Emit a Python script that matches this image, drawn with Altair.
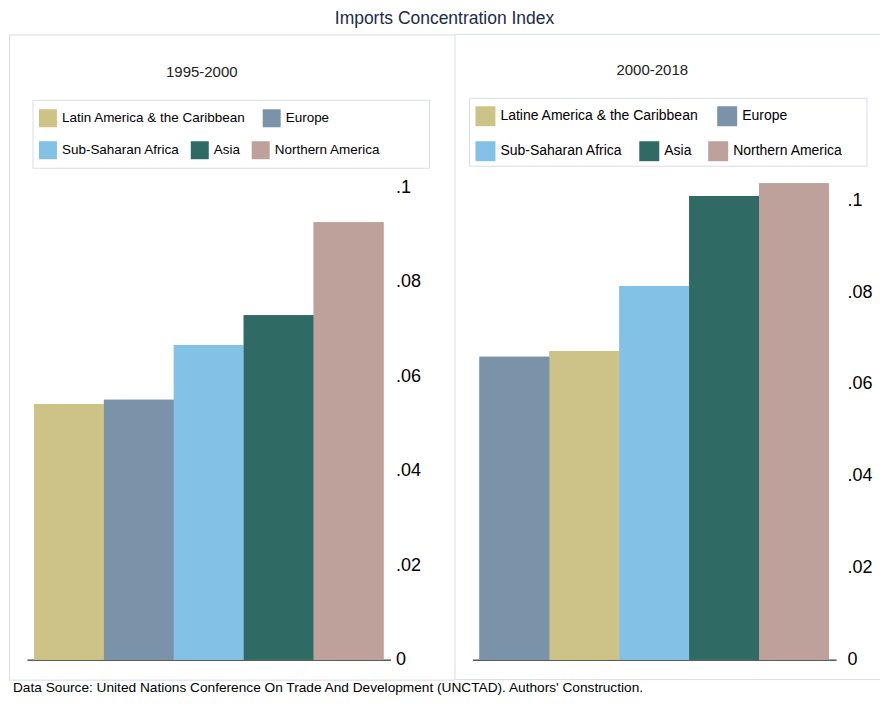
import altair as alt
import pandas as pd

# ---------------- data ----------------
chart_title = "Imports Concentration Index"
footer_text = "Data Source: United Nations Conference On Trade And Development (UNCTAD). Authors' Construction."

p1_label = "1995-2000"
p1_regions = ["Latin America & the Caribbean", "Europe", "Sub-Saharan Africa", "Asia", "Northern America"]
p1_values = [0.0541, 0.0550, 0.0666, 0.0729, 0.0926]

p2_label = "2000-2018"
p2_regions = ["Latine America & the Caribbean", "Europe", "Sub-Saharan Africa", "Asia", "Northern America"]
p2_values = [0.0672, 0.0659, 0.0813, 0.1009, 0.1037]

region_colors = ["#cdc386", "#7a93a9", "#84c1e6", "#2f6b64", "#bfa19c"]
y_ticks = [0, 0.02, 0.04, 0.06, 0.08, 0.1]

# ---------------- styling ----------------
FONT = "Liberation Sans"
H = 646
BASE = 626          # baseline position inside each panel
FRAME = "#d6dde6"
X0, X1 = 18, 382    # band range inside each panel


def legend(values, x, y, sym_px, font_size, col_pad):
    return alt.Legend(
        title=None, values=values, orient="none", legendX=x, legendY=y,
        direction="horizontal", columnPadding=col_pad,
        symbolType="square", symbolSize=sym_px * sym_px, symbolStrokeWidth=0,
        symbolOpacity=1, labelFont=FONT, labelFontSize=font_size,
        labelColor="black", labelOffset=5, labelLimit=400, padding=0,
    )


def panel(regions, values, label, width, ymax, ytop, box, rows_y, sym_px, leg_font,
          pads, sub_x, sub_y, lab_pad, first):
    df = pd.DataFrame({"region": regions, "value": values})
    cscale = alt.Scale(domain=regions, range=region_colors)

    x_enc = alt.X(
        "region:N",
        sort="y",
        scale=alt.Scale(range=[X0, X1], paddingInner=0, paddingOuter=0.1),
        axis=alt.Axis(labels=False, ticks=False, title=None, grid=False,
                      domainColor="black", domainWidth=1, offset=BASE - H),
    )
    y_enc = alt.Y(
        "value:Q",
        scale=alt.Scale(domain=[0, ymax], range=[BASE, ytop], nice=False, zero=True),
        axis=alt.Axis(
            orient="right", values=y_ticks, title=None, grid=False, ticks=False,
            domain=False, offset=X1 - width, labelPadding=lab_pad, labelFontSize=18,
            labelFont=FONT, labelColor="black",
            labelExpr="datum.value == 0 ? '0' : replace(format(datum.value, '.2~f'), '0.', '.')",
        ),
    )

    # legend frame (decoration)
    frame = alt.Chart(pd.DataFrame({"k": [0]})).mark_rect(
        fill="white", stroke=FRAME, strokeWidth=1
    ).encode(
        x=alt.value(box[0]), x2=alt.value(box[1]),
        y=alt.value(box[2]), y2=alt.value(box[3]),
    )

    # first legend row: Latin America, Europe
    bars_a = alt.Chart(df).mark_bar(strokeWidth=0).encode(
        x=x_enc, y=y_enc,
        color=alt.Color("region:N", scale=cscale,
                        legend=legend(regions[:2], box[0] + 6, rows_y[0] - sym_px / 2,
                                      sym_px, leg_font, pads[0])),
    )
    # second legend row: Sub-Saharan Africa, Asia, Northern America
    bars_b = alt.Chart(df).mark_bar(strokeWidth=0).encode(
        x=x_enc, y=y_enc,
        fill=alt.Fill("region:N", scale=cscale,
                      legend=legend(regions[2:], box[0] + 6, rows_y[1] - sym_px / 2,
                                    sym_px, leg_font, pads[1])),
    )

    sub = alt.Chart(pd.DataFrame({"t": [label]})).mark_text(
        font=FONT, fontSize=15, color="#222222", align="center", baseline="middle"
    ).encode(text="t:N", x=alt.value(sub_x), y=alt.value(sub_y))

    layers = [frame, bars_a, bars_b, sub]
    if first:
        foot = alt.Chart(pd.DataFrame({"t": [footer_text]})).mark_text(
            font=FONT, fontSize=13.7, color="black", align="left", baseline="middle"
        ).encode(text="t:N", x=alt.value(4), y=alt.value(H + 8))
        layers.append(foot)
        view = alt.ViewBackground(stroke=FRAME, strokeWidth=1)
    else:
        # panel runs off the page on the right: only top and bottom edges
        edges = alt.Chart(pd.DataFrame({"k": [0]})).mark_rule(color=FRAME, strokeWidth=1)
        layers.append(edges.encode(x=alt.value(0), x2=alt.value(width), y=alt.value(0)))
        layers.append(edges.encode(x=alt.value(0), x2=alt.value(width), y=alt.value(H)))
        view = alt.ViewBackground(stroke="transparent", strokeWidth=0)

    return (
        alt.layer(*layers)
        .resolve_legend(color="independent", fill="independent")
        .properties(width=width, height=H, view=view)
    )


left = panel(p1_regions, p1_values, p1_label, 446, 0.1, 153,
             (24, 421, 66, 134), (84, 116), 18, 13.5, (17, 11), 193, 38, 5, True)
right = panel(p2_regions, p2_values, p2_label, 426, 0.11, 120,
              (15, 413, 64, 132), (82, 117), 20, 14, (18, 16), 198, 36, 11, False)

chart = (
    alt.hconcat(left, right, spacing=0, bounds="flush")
    .resolve_scale(color="independent", fill="independent", x="independent", y="independent")
    .resolve_legend(color="independent", fill="independent")
    .properties(
        title=alt.TitleParams(chart_title, font=FONT, fontSize=17.5, fontWeight="normal",
                              color="#1c2b4a", anchor="middle", offset=6),
        padding={"left": 0, "top": 2, "right": 0, "bottom": 0},
    )
    .configure(background="white")
)

chart.save("out.html", embed_options={"renderer": "svg", "actions": False})
